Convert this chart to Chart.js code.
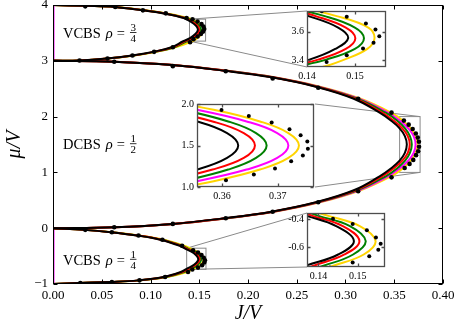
<!DOCTYPE html>
<html>
<head>
<meta charset="utf-8">
<script src="https://cdn.jsdelivr.net/npm/chart.js@4.4.0/dist/chart.umd.min.js"></script>
<style>
  body { margin: 0; background: #fff; }
  #wrap { position: relative; width: 456px; height: 327px; overflow: hidden; }
  #wrap canvas { position: absolute; }
</style>
</head>
<body>
<div id="wrap">
  <canvas id="main" width="456" height="327" style="left:0;top:0"></canvas>
</div>
<script>
(() => {

    // ---- datos ----
    // lobulo VCBS rho = 3/4 (mu entre 3 y 4)
    const mu34 = [3.0, 3.005, 3.04, 3.095, 3.16, 3.243, 3.35, 3.405, 3.48, 3.555, 3.63, 3.71, 3.768, 3.845, 3.904, 3.964, 3.985, 4.0];
    const black34 = [0, 0.0270, 0.0550, 0.0810, 0.1025, 0.1215, 0.1335, 0.1405, 0.1459, 0.1486, 0.1465, 0.1403, 0.1340, 0.1148, 0.0915, 0.0632, 0.0330, 0];
    const red34 = [0, 0.0270, 0.0553, 0.0818, 0.1033, 0.1228, 0.1352, 0.1423, 0.1481, 0.1501, 0.1481, 0.1418, 0.1352, 0.1160, 0.0925, 0.0637, 0.0333, 0];
    const green34 = [0, 0.0272, 0.0557, 0.0825, 0.1043, 0.1245, 0.1372, 0.1440, 0.1500, 0.1519, 0.1500, 0.1437, 0.1360, 0.1168, 0.0932, 0.0640, 0.0335, 0];
    const yellow34 = [0, 0.0275, 0.0560, 0.0832, 0.1055, 0.1255, 0.1428, 0.1478, 0.1526, 0.1541, 0.1528, 0.1462, 0.1385, 0.1180, 0.0945, 0.0648, 0.0340, 0];
    const dots34J = [0.0272, 0.0559, 0.0815, 0.1037, 0.1229, 0.1406, 0.1441, 0.1483, 0.1517, 0.1539, 0.1551, 0.1543, 0.1523, 0.1483, 0.1431, 0.1370, 0.1157, 0.0922, 0.0638, 0.0331];
    const dots34Mu = [3.005, 3.041, 3.095, 3.160, 3.243, 3.333, 3.388, 3.435, 3.482, 3.523, 3.569, 3.616, 3.658, 3.705, 3.744, 3.768, 3.850, 3.904, 3.964, 3.976];

    // lobulo DCBS rho = 1/2 (mu entre 0 y 3)
    const muD = [0, 0.018, 0.077, 0.179, 0.296, 0.464, 0.68, 0.93, 1.07, 1.21, 1.35, 1.5, 1.65, 1.79, 1.93, 2.07, 2.32, 2.536, 2.704, 2.821, 2.923, 2.982, 3.0];
    const blackD = [0, 0.0620, 0.1220, 0.1762, 0.2240, 0.2695, 0.3085, 0.3350, 0.3465, 0.3555, 0.3609, 0.3629, 0.3609, 0.3555, 0.3465, 0.3350, 0.3085, 0.2695, 0.2240, 0.1762, 0.1220, 0.0620, 0];
    const redD = [0, 0.0625, 0.1226, 0.1768, 0.2247, 0.2705, 0.3102, 0.3375, 0.3492, 0.3583, 0.3639, 0.3659, 0.3639, 0.3583, 0.3492, 0.3375, 0.3102, 0.2705, 0.2247, 0.1768, 0.1226, 0.0625, 0];
    const greenD = [0, 0.0630, 0.1232, 0.1775, 0.2255, 0.2716, 0.3122, 0.3412, 0.3528, 0.3611, 0.3661, 0.3680, 0.3661, 0.3611, 0.3528, 0.3412, 0.3122, 0.2716, 0.2255, 0.1775, 0.1232, 0.0630, 0];
    const magentaD = [0, 0.0634, 0.1238, 0.1782, 0.2263, 0.2726, 0.3138, 0.3435, 0.3555, 0.3644, 0.3699, 0.3719, 0.3699, 0.3644, 0.3555, 0.3435, 0.3138, 0.2726, 0.2263, 0.1782, 0.1238, 0.0634, 0];
    const yellowD = [0, 0.0640, 0.1245, 0.1790, 0.2272, 0.2738, 0.3155, 0.3468, 0.3585, 0.3668, 0.3719, 0.3738, 0.3719, 0.3668, 0.3585, 0.3468, 0.3155, 0.2738, 0.2272, 0.1790, 0.1245, 0.0640, 0];
    const dotsDJ = [0.0628, 0.1229, 0.1772, 0.2253, 0.2720, 0.3130, 0.3472, 0.3607, 0.3657, 0.3695, 0.3724, 0.3745, 0.3754, 0.3753, 0.3741, 0.3721, 0.3689, 0.3648, 0.3599, 0.3472, 0.3130, 0.2720, 0.2253, 0.1772, 0.1229, 0.0628];
    const dotsDMu = [0.018, 0.077, 0.179, 0.296, 0.464, 0.661, 0.911, 1.080, 1.152, 1.224, 1.309, 1.380, 1.460, 1.549, 1.624, 1.696, 1.777, 1.856, 1.928, 2.071, 2.321, 2.518, 2.684, 2.814, 2.904, 2.982];

    // lobulo VCBS rho = 1/4 (mu entre -1 y 0)
    const mu14 = [-1.0, -0.982, -0.964, -0.935, -0.875, -0.785, -0.727, -0.65, -0.555, -0.45, -0.378, -0.315, -0.206, -0.131, -0.072, -0.03, 0];
    const black14 = [0, 0.0270, 0.0590, 0.0870, 0.1130, 0.1310, 0.1370, 0.1450, 0.1490, 0.1445, 0.1370, 0.1300, 0.1100, 0.0860, 0.0590, 0.0320, 0];
    const red14 = [0, 0.0272, 0.0594, 0.0878, 0.1142, 0.1328, 0.1390, 0.1466, 0.1504, 0.1462, 0.1385, 0.1312, 0.1110, 0.0866, 0.0593, 0.0322, 0];
    const green14 = [0, 0.0275, 0.0598, 0.0885, 0.1155, 0.1345, 0.1415, 0.1488, 0.1520, 0.1480, 0.1400, 0.1325, 0.1120, 0.0873, 0.0598, 0.0325, 0];
    const yellow14 = [0, 0.0280, 0.0605, 0.0895, 0.1170, 0.1375, 0.1440, 0.1515, 0.1545, 0.1505, 0.1425, 0.1345, 0.1135, 0.0880, 0.0605, 0.0330, 0];
    const dots14J = [0.0331, 0.0604, 0.0877, 0.1122, 0.1324, 0.1437, 0.1487, 0.1523, 0.1546, 0.1558, 0.1552, 0.1529, 0.1487, 0.1429, 0.1385, 0.1150, 0.0887, 0.0604, 0.0280];
    const dots14Mu = [-0.030, -0.072, -0.131, -0.206, -0.315, -0.398, -0.435, -0.480, -0.530, -0.574, -0.616, -0.663, -0.706, -0.741, -0.786, -0.875, -0.935, -0.964, -0.982];

    // borde magenta en J = 0
    const edgeJ = [0, 0];
    const edgeMu34 = [3, 4];
    const edgeMu14 = [-1, 0];

    // ejes
    const mainXTicks = [0, 0.05, 0.10, 0.15, 0.20, 0.25, 0.30, 0.35, 0.40];
    const mainYTicks = [-1, 0, 1, 2, 3, 4];

    const insetA = { xr: [0.14, 0.1565], yr: [3.353, 3.746], xTicks: [0.14, 0.15], yTicks: [3.4, 3.6],
                     box: { left: 307, top: 11, width: 80, height: 56 }, links: ['ul', 'll'] };
    const insetB = { xr: [0.3555, 0.3765], yr: [1.0, 2.0], xTicks: [0.36, 0.37], yTicks: [1.0, 1.5, 2.0],
                     box: { left: 197, top: 104, width: 118, height: 83 }, links: ['ur', 'lr'] };
    const insetC = { xr: [0.1371, 0.1569], yr: [-0.738, -0.358], xTicks: [0.14, 0.15], yTicks: [-0.6, -0.4],
                     box: { left: 307, top: 213, width: 79, height: 54 }, links: ['ul', 'll'] };
    const insets = [insetA, insetB, insetC];

    const lobeLabels = [
        { name: 'VCBS', num: '3', den: '4', J: 0.0102, mu: 3.41 },
        { name: 'DCBS', num: '1', den: '2', J: 0.0102, mu: 1.415 },
        { name: 'VCBS', num: '1', den: '4', J: 0.0102, mu: -0.655 }
    ];

    const colores = { black: '#000000', red: '#ff0000', green: '#008000', magenta: '#ff00ff', yellow: '#ffd400' };
    const FONT = '"Liberation Serif", "DejaVu Serif", serif';
    Chart.defaults.font.family = FONT;
    Chart.defaults.color = '#000';

    function curva(mu, J, color, order, width) {
        return {
            data: mu.map((m, i) => ({ x: J[i], y: m })),
            showLine: true, borderColor: color, borderWidth: width,
            pointRadius: 0, tension: 0.4, order: order, clip: 0
        };
    }

    function puntos(J, mu, radius) {
        return {
            data: J.map((j, i) => ({ x: j, y: mu[i] })),
            showLine: false, pointRadius: radius, pointBackgroundColor: '#000',
            pointBorderWidth: 0, order: 0, clip: 0
        };
    }

    function construirDatasets(radio, ancho) {
        return [
            puntos(dots34J, dots34Mu, radio),
            puntos(dotsDJ, dotsDMu, radio),
            puntos(dots14J, dots14Mu, radio),
            curva(mu34, black34, colores.black, 1, ancho),
            curva(muD, blackD, colores.black, 1, ancho),
            curva(mu14, black14, colores.black, 1, ancho),
            curva(mu34, red34, colores.red, 2, ancho),
            curva(muD, redD, colores.red, 2, ancho),
            curva(mu14, red14, colores.red, 2, ancho),
            curva(mu34, green34, colores.green, 3, ancho),
            curva(muD, greenD, colores.green, 3, ancho),
            curva(mu14, green14, colores.green, 3, ancho),
            curva(muD, magentaD, colores.magenta, 4, ancho),
            curva(mu34, yellow34, colores.yellow, 5, ancho),
            curva(muD, yellowD, colores.yellow, 5, ancho),
            curva(mu14, yellow14, colores.yellow, 5, ancho),
            curva(edgeMu34, edgeJ, colores.magenta, 6, 3),
            curva(edgeMu14, edgeJ, colores.magenta, 6, 3)
        ];
    }

    // marco con ticks hacia adentro en los cuatro lados
    const marcoPlugin = {
        id: 'marco',
        beforeDatasetsDraw(chart, args, opts) {
            if (!opts.bg) return;
            const a = chart.chartArea;
            chart.ctx.save();
            chart.ctx.fillStyle = opts.bg;
            chart.ctx.fillRect(a.left, a.top, a.right - a.left, a.bottom - a.top);
            chart.ctx.restore();
        },
        afterDatasetsDraw(chart, args, opts) {
            const { ctx, chartArea: a, scales } = chart;
            const L = Math.round(a.left) + 0.5, R = Math.round(a.right) - 0.5;
            const T = Math.round(a.top) + 0.5, B = Math.round(a.bottom) - 0.5;
            ctx.save();
            ctx.strokeStyle = opts.color;
            ctx.lineWidth = opts.width;
            ctx.beginPath();
            scales.x.ticks.forEach(t => {
                const px = Math.round(scales.x.getPixelForValue(t.value)) + 0.5;
                ctx.moveTo(px, B); ctx.lineTo(px, B - opts.len);
                ctx.moveTo(px, T); ctx.lineTo(px, T + opts.len);
            });
            scales.y.ticks.forEach(t => {
                const py = Math.round(scales.y.getPixelForValue(t.value)) + 0.5;
                ctx.moveTo(L, py); ctx.lineTo(L + opts.len, py);
                ctx.moveTo(R, py); ctx.lineTo(R - opts.len, py);
            });
            ctx.stroke();
            ctx.strokeRect(L, T, R - L, B - T);
            ctx.restore();
        }
    };

    // rectangulos de zoom y lineas hacia los recuadros
    const conectoresPlugin = {
        id: 'conectores',
        beforeDatasetsDraw(chart) {
            const { ctx, scales: { x, y } } = chart;
            ctx.save();
            ctx.strokeStyle = '#8a8a8a';
            ctx.lineWidth = 1;
            insets.forEach(ins => {
                const x0 = x.getPixelForValue(ins.xr[0]), x1 = x.getPixelForValue(ins.xr[1]);
                const y0 = y.getPixelForValue(ins.yr[1]), y1 = y.getPixelForValue(ins.yr[0]);
                ctx.strokeRect(x0, y0, x1 - x0, y1 - y0);
                const b = ins.box;
                const rc = { ul: [x0, y0], ur: [x1, y0], ll: [x0, y1], lr: [x1, y1] };
                const bc = { ul: [b.left, b.top], ur: [b.left + b.width, b.top],
                             ll: [b.left, b.top + b.height], lr: [b.left + b.width, b.top + b.height] };
                ctx.beginPath();
                ins.links.forEach(k => {
                    ctx.moveTo(rc[k][0], rc[k][1]);
                    ctx.lineTo(bc[k][0], bc[k][1]);
                });
                ctx.stroke();
            });
            ctx.restore();
        }
    };

    // etiquetas "VCBS rho = 3/4" etc.
    const etiquetasPlugin = {
        id: 'etiquetas',
        afterDatasetsDraw(chart) {
            const { ctx, scales: { x, y } } = chart;
            ctx.save();
            ctx.fillStyle = '#000';
            lobeLabels.forEach(l => {
                let px = x.getPixelForValue(l.J);
                const base = y.getPixelForValue(l.mu);
                ctx.textAlign = 'left';
                ctx.textBaseline = 'alphabetic';
                ctx.font = '14.5px ' + FONT;
                ctx.fillText(l.name, px, base);
                px += ctx.measureText(l.name).width + 5;
                ctx.font = 'italic 14.5px ' + FONT;
                ctx.fillText('\u03c1', px, base);
                px += ctx.measureText('\u03c1').width + 4;
                ctx.font = '14.5px ' + FONT;
                ctx.fillText('=', px, base);
                px += ctx.measureText('=').width + 5;
                const eje = base - 5.5;
                ctx.font = '11px ' + FONT;
                const w = Math.max(ctx.measureText(l.num).width, ctx.measureText(l.den).width) + 1;
                ctx.textAlign = 'center';
                ctx.fillText(l.num, px + w / 2, eje - 1.5);
                ctx.textBaseline = 'top';
                ctx.fillText(l.den, px + w / 2, eje + 1.2);
                ctx.fillRect(px, eje - 0.4, w, 0.8);
            });
            ctx.restore();
        }
    };

    function sinPadding(ax) {
        ax.paddingLeft = 0; ax.paddingRight = 0; ax.paddingTop = 0; ax.paddingBottom = 0;
    }

    function opcionesEje(cfg) {
        return {
            type: 'linear',
            position: cfg.position,
            min: cfg.min, max: cfg.max,
            afterBuildTicks: ax => { ax.ticks = cfg.ticks.map(v => ({ value: v })); },
            afterFit: ax => {
                if (cfg.position === 'bottom') ax.height = cfg.size; else ax.width = cfg.size;
                sinPadding(ax);
            },
            grid: { display: false, drawTicks: false },
            border: { display: false },
            ticks: { padding: cfg.pad, font: { size: cfg.font }, color: '#000', autoSkip: false,
                     maxRotation: 0, callback: cfg.fmt },
            title: cfg.title || { display: false }
        };
    }

    // recuadros (se crean primero; el grafico principal dibuja los conectores)
    const M = { l: 30, r: 3, t: 6, b: 16 };
    const wrap = document.getElementById('wrap');

    function crearRecuadro(ins, fmtY) {
        const c = document.createElement('canvas');
        c.width = ins.box.width + M.l + M.r;
        c.height = ins.box.height + M.t + M.b;
        c.style.left = (ins.box.left - M.l) + 'px';
        c.style.top = (ins.box.top - M.t) + 'px';
        wrap.appendChild(c);
        return new Chart(c, {
            type: 'scatter',
            data: { datasets: construirDatasets(2, 2) },
            options: {
                responsive: false, animation: false, events: [],
                layout: { padding: { left: 0, right: M.r, top: M.t, bottom: 0 } },
                plugins: { legend: { display: false }, tooltip: { enabled: false },
                           marco: { color: '#4d4d4d', width: 1.3, len: 3, bg: '#fff' } },
                scales: {
                    x: opcionesEje({ position: 'bottom', min: ins.xr[0], max: ins.xr[1], ticks: ins.xTicks,
                                     size: M.b, pad: 3, font: 10, fmt: v => v.toFixed(2) }),
                    y: opcionesEje({ position: 'left', min: ins.yr[0], max: ins.yr[1], ticks: ins.yTicks,
                                     size: M.l, pad: 3, font: 10, fmt: fmtY })
                }
            },
            plugins: [marcoPlugin]
        });
    }

    crearRecuadro(insetA, v => v.toFixed(1));
    crearRecuadro(insetB, v => v.toFixed(1));
    crearRecuadro(insetC, v => v.toFixed(1));

    new Chart(document.getElementById('main'), {
        type: 'scatter',
        data: { datasets: construirDatasets(2.3, 2) },
        options: {
            responsive: false, animation: false, events: [],
            layout: { padding: { left: 0, right: 13, top: 5, bottom: 0 } },
            plugins: { legend: { display: false }, tooltip: { enabled: false },
                       marco: { color: '#000', width: 1, len: 4 } },
            scales: {
                x: opcionesEje({ position: 'bottom', min: 0, max: 0.4, ticks: mainXTicks, size: 43, pad: 4,
                                 font: 13, fmt: v => v.toFixed(2),
                                 title: { display: true, text: 'J/V', color: '#000',
                                          font: { size: 20, style: 'italic' }, padding: { top: 0, bottom: 1 } } }),
                y: opcionesEje({ position: 'left', min: -1, max: 4, ticks: mainYTicks, size: 53, pad: 5,
                                 font: 13, fmt: v => (v < 0 ? '\u2212' + Math.abs(v) : String(v)),
                                 title: { display: true, text: '\u03bc/V', color: '#000',
                                          font: { size: 20, style: 'italic' }, padding: { top: 3, bottom: 0 } } })
            }
        },
        plugins: [conectoresPlugin, marcoPlugin, etiquetasPlugin]
    });

})();
</script>
</body>
</html>
